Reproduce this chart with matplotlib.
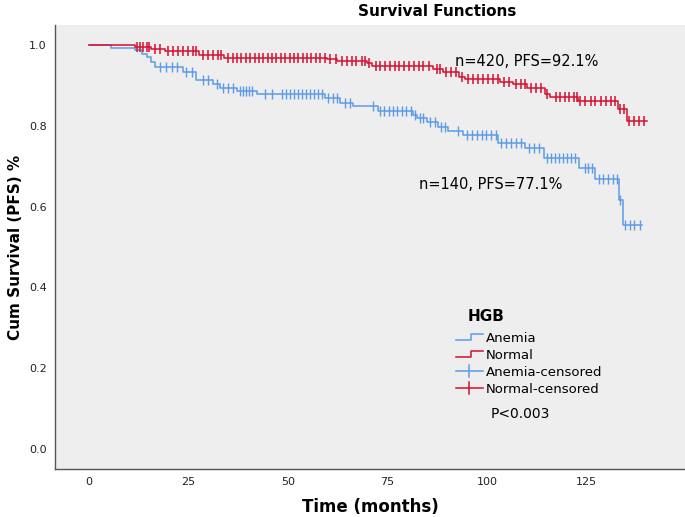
import matplotlib
matplotlib.use('Agg')
import matplotlib.pyplot as plt
from matplotlib.legend_handler import HandlerLine2D
from matplotlib.lines import Line2D

plt.rcParams['font.family'] = ['DejaVu Sans']

# Kaplan-Meier steps (time in months, cumulative survival)
anemia_t = [0, 5.5, 11.6, 13.3, 14.6, 15.6, 16.6, 23.6, 27.0, 31.2, 33.0, 37.1,
            42.2, 59.3, 63.1, 66.3, 72.6, 81.4, 82.4, 84.9, 87.7, 90.2, 93.9,
            102.8, 109.5, 114.3, 123.1, 127.1, 133.1, 134.1, 139.0]
anemia_s = [1.0, 0.994, 0.988, 0.979, 0.970, 0.959, 0.945, 0.934, 0.915, 0.905, 0.895, 0.887,
            0.879, 0.869, 0.857, 0.850, 0.837, 0.827, 0.819, 0.810, 0.798, 0.788, 0.777,
            0.758, 0.745, 0.720, 0.695, 0.668, 0.616, 0.554, 0.554]
anemia_cens = [17.8, 19.3, 20.9, 22.1, 24.5, 25.8, 28.6, 29.9, 32.1, 33.7, 35.0, 36.2,
               37.9, 38.6, 39.4, 40.2, 41.0, 44.2, 46.0, 48.5, 49.5, 50.5, 51.5, 52.5,
               53.5, 54.5, 55.5, 56.5, 57.5, 58.5, 60.0, 61.3, 62.3, 64.3, 65.6, 71.4,
               73.1, 74.2, 75.3, 76.4, 77.5, 78.6, 79.7, 80.8, 82.0, 83.2, 84.0, 85.7,
               87.0, 88.5, 89.5, 92.7, 95.0, 96.2, 97.4, 98.6, 99.8, 101.0, 102.2,
               103.5, 104.8, 106.0, 107.3, 108.5, 110.5, 111.8, 113.0, 115.0, 116.0,
               117.0, 118.0, 119.0, 120.0, 121.0, 122.0, 124.6, 125.4, 126.3, 128.0,
               129.2, 130.4, 131.5, 132.6, 133.4, 134.7, 135.8, 137.0, 138.3]

normal_t = [0, 11.6, 15.7, 19.1, 27.7, 34.0, 59.7, 62.2, 69.8, 71.0, 86.5, 89.0, 93.0,
            94.5, 103.3, 106.5, 110.0, 114.5, 115.8, 122.9, 132.9, 135.2, 140.2]
normal_s = [1.0, 0.996, 0.990, 0.985, 0.975, 0.969, 0.965, 0.962, 0.955, 0.949, 0.942,
            0.934, 0.921, 0.917, 0.910, 0.903, 0.893, 0.880, 0.871, 0.862, 0.841, 0.813, 0.813]
normal_cens = [12.0, 12.8, 13.6, 14.5, 15.1, 16.6, 17.8, 19.9, 21.2, 22.4, 23.7, 24.9,
               26.2, 27.0, 28.7, 30.0, 31.2, 32.5, 33.3, 35.0, 36.1, 37.2, 38.3, 39.4,
               40.5, 41.6, 42.7, 43.8, 44.9, 46.0, 47.1, 48.2, 49.3, 50.4, 51.5, 52.6,
               53.7, 54.8, 55.9, 57.0, 58.1, 59.2, 60.6, 62.0, 63.5, 64.7, 66.0, 67.2,
               68.5, 69.4, 70.4, 72.0, 73.2, 74.4, 75.6, 76.8, 78.0, 79.2, 80.4, 81.6,
               82.8, 84.0, 85.3, 87.3, 88.2, 89.8, 91.0, 92.3, 93.7, 95.2, 96.5, 97.7,
               99.0, 100.2, 101.5, 102.7, 104.3, 105.5, 107.2, 108.5, 109.5, 111.0,
               112.3, 113.5, 115.0, 117.2, 118.4, 119.5, 120.6, 121.8, 122.6, 123.4,
               124.7, 126.0, 127.2, 128.5, 129.8, 131.0, 132.2, 133.5, 134.4, 135.6,
               136.9, 138.1, 139.4]

x_ticks = [0, 25, 50, 75, 100, 125]
y_ticks = [0.0, 0.2, 0.4, 0.6, 0.8, 1.0]

blue = '#5d9be8'
red = '#d5102f'


def surv_at(times, surv, t):
    # value of the step function just at time t
    val = surv[0]
    for ti, si in zip(times, surv):
        if ti <= t:
            val = si
    return val


class HandlerStep(HandlerLine2D):
    def create_artists(self, legend, orig_handle, xdescent, ydescent,
                       width, height, fontsize, trans):
        x0, x1 = -xdescent, -xdescent + width
        xm = x0 + width * 0.55
        ylo, yhi = -ydescent + height * 0.15, -ydescent + height * 0.85
        line = Line2D([x0, xm, xm, x1], [ylo, ylo, yhi, yhi],
                      color=orig_handle.get_color(), lw=1.1)
        line.set_transform(trans)
        return [line]


class HandlerCross(HandlerLine2D):
    def create_artists(self, legend, orig_handle, xdescent, ydescent,
                       width, height, fontsize, trans):
        x0, x1 = -xdescent, -xdescent + width
        ym = -ydescent + height / 2
        h = Line2D([x0, x1], [ym, ym], color=orig_handle.get_color(), lw=1.1)
        v = Line2D([(x0 + x1) / 2] * 2, [ym - height * 0.6, ym + height * 0.6],
                   color=orig_handle.get_color(), lw=1.1)
        h.set_transform(trans)
        v.set_transform(trans)
        return [h, v]


fig = plt.figure(figsize=(6.85, 5.17), dpi=100)
ax = fig.add_axes([0.0803, 0.0928, 0.9197, 0.8588])
ax.set_facecolor('#eeeeee')

ax.step(anemia_t, anemia_s, where='post', color=blue, lw=1.1)
ax.step(normal_t, normal_s, where='post', color=red, lw=1.1)
ax.plot(anemia_cens, [surv_at(anemia_t, anemia_s, t) for t in anemia_cens],
        ls='none', marker='|', ms=7, mew=1.0, color=blue)
ax.plot(normal_cens, [surv_at(normal_t, normal_s, t) for t in normal_cens],
        ls='none', marker='|', ms=7, mew=1.1, color=red)

ax.set_xlim(-8.5, 149.7)
ax.set_ylim(-0.05, 1.05)
ax.set_xticks(x_ticks)
ax.set_yticks(y_ticks)
ax.set_yticklabels([f'{v:.1f}' for v in y_ticks])
ax.tick_params(length=0, labelsize=8, colors='#222222', pad=6)
for side in ['top', 'right']:
    ax.spines[side].set_visible(False)
for side in ['left', 'bottom']:
    ax.spines[side].set_color('#555555')
    ax.spines[side].set_linewidth(1.0)

ax.set_xlabel('Time (months)', fontsize=12, fontweight='bold', labelpad=8)
ax.set_ylabel('Cum Survival (PFS) %', fontsize=11, fontweight='bold', labelpad=4)
fig.text(0.638, 0.978, 'Survival Functions', fontsize=11, fontweight='bold',
         ha='center', va='center')

ax.text(92, 0.96, 'n=420, PFS=92.1%', fontsize=10.5, ha='left', va='center')
ax.text(83, 0.656, 'n=140, PFS=77.1%', fontsize=10.5, ha='left', va='center')

handles = [Line2D([], [], color=blue), Line2D([], [], color=red),
           Line2D([], [], color=blue, marker='|'), Line2D([], [], color=red, marker='|')]
labels = ['Anemia', 'Normal', 'Anemia-censored', 'Normal-censored']
leg = ax.legend(handles, labels, frameon=False, fontsize=9.5,
                loc='upper left', bbox_to_anchor=(0.617, 0.336),
                handlelength=2.1, handletextpad=0.2, labelspacing=0.3,
                handler_map={handles[0]: HandlerStep(), handles[1]: HandlerStep(),
                             handles[2]: HandlerCross(), handles[3]: HandlerCross()})
ax.text(95.2, 0.329, 'HGB', fontsize=11, fontweight='bold', ha='left', va='center')

ax.text(101, 0.087, 'P<0.003', fontsize=10, ha='left', va='center')

fig.savefig('out.png', dpi=100)
